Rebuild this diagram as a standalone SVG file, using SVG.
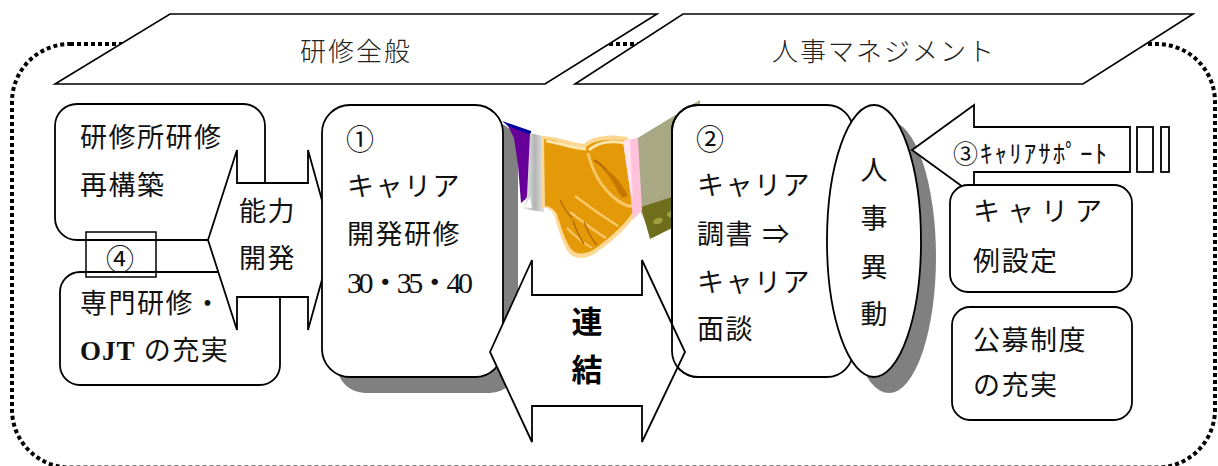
<svg xmlns="http://www.w3.org/2000/svg" width="1218" height="466" viewBox="0 0 1218 466">
  <defs>
    <style>
      .frame { fill: none; stroke: #000; stroke-width: 4; stroke-dasharray: 4 3; }
      .para { fill: #fff; stroke: #000; stroke-width: 1.6; }
      .box { fill: #fff; stroke: #000; stroke-width: 1.8; }
      .line { fill: none; stroke: #000; stroke-width: 1.8; }
      .shadow { fill: #808080; }
      .hd { font-family: "Noto Sans CJK JP", sans-serif; font-size: 26px; font-weight: 300; fill: #222; letter-spacing: 2px; }
      .t { font-family: "Liberation Serif", "Noto Sans CJK JP", serif; font-size: 27px; fill: #111; letter-spacing: 1.5px; }
      .v { font-family: "Noto Sans CJK JP", sans-serif; font-size: 27px; fill: #111; text-anchor: middle; }
      .c { font-family: "Noto Sans CJK JP", sans-serif; font-size: 28px; fill: #111; }
      .bold { font-family: "Noto Sans CJK JP", sans-serif; font-size: 31px; font-weight: 700; fill: #000; }
      .small { font-family: "Noto Sans CJK JP", sans-serif; font-size: 25px; fill: #111; }
    </style>
    <linearGradient id="cuff" x1="0" y1="0" x2="1" y2="0">
      <stop offset="0" stop-color="#f6f6f6"/>
      <stop offset="0.5" stop-color="#b4b4b4"/>
      <stop offset="1" stop-color="#f2f2f2"/>
    </linearGradient>
    <clipPath id="left-strip">
      <rect x="660" y="90" width="60" height="300"/>
    </clipPath>
  </defs>

  <!-- dotted outer frame -->
  <rect class="frame" x="12" y="44" width="1203" height="423.5" rx="58" ry="58"/>

  <!-- header bands -->
  <g id="band-training">
    <polygon class="para" points="170,14 657,14 545,84 55,84"/>
    <text class="hd" x="356" y="61" text-anchor="middle">研修全般</text>
  </g>
  <g id="band-personnel">
    <polygon class="para" points="683,14 1193,14 1083,84 575,84"/>
    <text class="hd" x="884" y="61" text-anchor="middle">人事マネジメント</text>
  </g>

  <!-- left column -->
  <g id="box-rebuild">
    <rect class="box" x="55" y="104" width="210" height="136" rx="22"/>
    <text class="t" x="80" y="147">研修所研修</text>
    <text class="t" x="80" y="195">再構築</text>
  </g>
  <g id="box-ojt">
    <rect class="box" x="60" y="272" width="220" height="113" rx="20"/>
    <text class="t" x="80" y="313">専門研修・</text>
    <text class="t" x="80" y="360"><tspan style="font-weight:bold; letter-spacing:1px">OJT</tspan> の充実</text>
  </g>
  <g id="arrow-ability">
    <polygon class="box" points="208,240 237,150 237,183 308,183 308,150 333,240 308,330 308,297 237,297 237,330"/>
    <text class="t" x="239" y="221">能力</text>
    <text class="t" x="239" y="268">開発</text>
  </g>
  <g id="label-4">
    <rect fill="none" stroke="#000" stroke-width="1.5" x="86" y="232" width="70" height="45"/>
    <text class="c" x="120" y="270" text-anchor="middle">④</text>
  </g>

  <!-- career development training -->
  <g id="box-career-training">
    <rect class="shadow" x="337" y="121" width="181" height="272" rx="28"/>
    <rect class="box" x="322" y="105" width="181" height="272" rx="28"/>
    <text class="c" x="346" y="150">①</text>
    <text class="t" x="347" y="196">キャリア</text>
    <text class="t" x="347" y="244">開発研修</text>
    <text class="t" x="347" y="293" style="font-size:30px; letter-spacing:0" textLength="126" lengthAdjust="spacing">30・35・40</text>
  </g>

  <!-- handshake picture -->
  <g id="handshake">
    <polygon points="507,124 531,133 528,197 521,203 518,165 514,138" fill="#660099"/>
    <polygon points="502,121 531,131 531,135 508,126" fill="#0000a0"/>
    <polygon points="530,133 547,137 544,212 523,209 527,196" fill="url(#cuff)"/>
    <polygon points="525,207 530,197 532,208" fill="#fff"/>
    <!-- sleeve on the right -->
    <polygon points="636,139 700,100 700,212 652,238 641,212" fill="#a8a884"/>
    <polygon points="641,207 700,188 700,214 650,239" fill="#6e6e1c"/>
    <ellipse cx="658" cy="221" rx="5" ry="3" fill="#a0a040" transform="rotate(-20 658 221)"/>
    <ellipse cx="671" cy="214" rx="4" ry="3" fill="#a0a040" transform="rotate(-20 671 214)"/>
    <!-- clasped hands -->
    <path d="M541,136 C556,136 569,142 584,144 C590,137 606,133 628,137 L638,210 C632,224 613,241 597,252 C588,259 575,261 568,252 C562,242 558,228 554,214 C550,208 546,207 542,208 Z" fill="#fcd894"/>
    <path d="M544,139 C557,140 569,146 585,148 C592,141 606,138 626,141 L635,208 C629,221 611,237 596,248 C588,254 577,256 571,249 C565,240 561,227 557,214 C553,208 549,206 545,206 Z" fill="#e49a08"/>
    <path d="M546,141 C560,143 572,148 586,149" fill="none" stroke="#ffe6ad" stroke-width="3"/>
    <path d="M589,150 C598,142 612,140 624,143" fill="none" stroke="#ffe6ad" stroke-width="3"/>
    <path d="M588,153 C592,170 600,185 612,196 C620,203 628,207 633,206" fill="none" stroke="#f8c866" stroke-width="3"/>
    <path d="M575,196 C588,206 602,216 618,226" fill="none" stroke="#f8c866" stroke-width="2.5"/>
    <path d="M570,212 C582,221 594,231 606,238" fill="none" stroke="#f8c866" stroke-width="2.5"/>
    <path d="M567,228 C575,236 583,243 592,248" fill="none" stroke="#f8c866" stroke-width="2"/>
    <path d="M594,160 C604,165 612,176 620,192" fill="none" stroke="#b86c00" stroke-width="2.5"/>
    <path d="M602,168 C610,176 616,188 622,198 L628,196 C622,184 614,172 602,168 Z" fill="#c57800"/>
    <path d="M573,220 C576,230 580,238 584,244" fill="none" stroke="#b86c00" stroke-width="1.5"/>
    <path d="M584,222 C588,232 592,240 597,245" fill="none" stroke="#b86c00" stroke-width="1.5"/>
    <path d="M560,200 C564,208 568,214 572,218" fill="none" stroke="#b86c00" stroke-width="1.5"/>
    <!-- pink cuff -->
    <polygon points="623,141 638,138 642,210 633,220 630,190" fill="#ffc2da"/>
    <polygon points="623,141 630,140 633,200 630,190" fill="#ffe2ee"/>
  </g>

  <!-- career interview -->
  <g id="box-career-interview">
    <rect class="box" x="672" y="105" width="181" height="272" rx="26"/>
    <text class="c" x="696" y="150">②</text>
    <text class="t" x="697" y="195">キャリア</text>
    <text class="t" x="697" y="244">調書 ⇒</text>
    <text class="t" x="697" y="292">キャリア</text>
    <text class="t" x="697" y="339">面談</text>
  </g>

  <!-- personnel transfer -->
  <g id="ellipse-transfer">
    <ellipse class="shadow" cx="889" cy="257" rx="47" ry="136"/>
    <ellipse class="box" cx="874" cy="241" rx="47" ry="136"/>
    <text class="v" x="874" y="180">人</text>
    <text class="v" x="874" y="228">事</text>
    <text class="v" x="874" y="277">異</text>
    <text class="v" x="874" y="324">動</text>
  </g>

  <!-- connecting arrows -->
  <g id="connectors">
    <g id="arrow-link">
      <polygon class="box" points="490,352 532,260 532,295 642,295 642,260 685,352 642,442 642,406 532,406 532,442"/>
      <!-- left edge of the interview box stays visible over the arrow head -->
      <rect class="line" x="672" y="105" width="181" height="272" rx="26" clip-path="url(#left-strip)"/>
      <text class="bold" x="587" y="333" text-anchor="middle">連</text>
      <text class="bold" x="587" y="381" text-anchor="middle">結</text>
    </g>
    <g id="arrow-support">
      <polygon class="box" points="912,150 974,105 974,127 1130,127 1130,172 974,172 974,195"/>
      <rect class="box" x="1137" y="127" width="16" height="45"/>
      <rect class="box" x="1161" y="127" width="8" height="45"/>
      <text class="small" x="953" y="163" textLength="154" lengthAdjust="spacing">③ｷｬﾘｱｻﾎﾟｰﾄ</text>
    </g>
  </g>

  <!-- right column -->
  <g id="box-career-model">
    <rect class="box" x="950" y="185" width="182" height="107" rx="18"/>
    <text class="t" x="973" y="221" style="letter-spacing:7px">キャリア</text>
    <text class="t" x="973" y="271">例設定</text>
  </g>
  <g id="box-open-recruit">
    <rect class="box" x="952" y="307" width="180" height="113" rx="18"/>
    <text class="t" x="973" y="350">公募制度</text>
    <text class="t" x="973" y="395">の充実</text>
  </g>
</svg>
